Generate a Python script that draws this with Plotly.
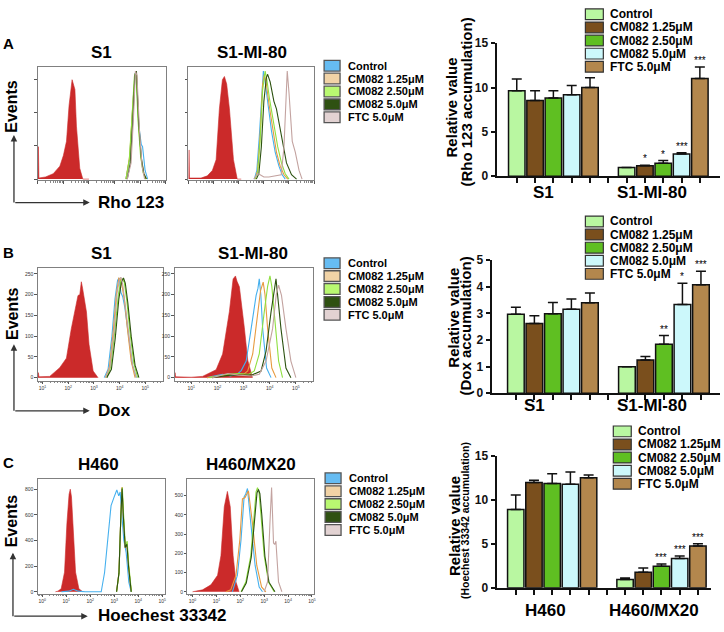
import plotly.graph_objects as go

W, H = 724, 632
FONT = "Liberation Sans, Arial, sans-serif"

# ---------------- labels / colours ----------------
TREATMENTS = ["Control", "CM082 1.25μM", "CM082 2.50μM", "CM082 5.0μM", "FTC 5.0μM"]
BAR_COLORS = ["#b9f7a1", "#7a4f1d", "#5fbf22", "#ccf8fb", "#b3874d"]
HIST_SWATCH = ["#66bcf2", "#f1d3a6", "#b9f871", "#2f5112", "#e2d2d2"]
HIST_LINES = ["#45b0ee", "#e79a3f", "#8fe040", "#2c5210", "#c3a3a0"]
RED = "#cb2a2a"

# ---------------- bar chart data ----------------
A_GROUPS = ["S1", "S1-MI-80"]
A_G1 = [9.63, 8.53, 8.82, 9.19, 10.0]
A_G1_ERR = [1.32, 1.1, 0.81, 1.03, 1.1]
A_G2 = [0.99, 1.18, 1.47, 2.5, 11.03]
A_G2_ERR = [0.0, 0.05, 0.29, 0.15, 1.29]
A_G2_SIG = ["", "*", "*", "***", "***"]

B_GROUPS = ["S1", "S1-MI-80"]
B_G1 = [2.97, 2.62, 2.99, 3.16, 3.4]
B_G1_ERR = [0.26, 0.29, 0.42, 0.38, 0.37]
B_G2 = [1.0, 1.25, 1.84, 3.34, 4.08]
B_G2_ERR = [0.0, 0.13, 0.33, 0.8, 0.51]
B_G2_SIG = ["", "", "**", "*", "***"]

C_GROUPS = ["H460", "H460/MX20"]
C_G1 = [8.89, 11.96, 11.85, 11.78, 12.52]
C_G1_ERR = [1.67, 0.26, 1.11, 1.37, 0.3]
C_G2 = [0.96, 1.78, 2.44, 3.33, 4.74]
C_G2_ERR = [0.15, 0.48, 0.26, 0.3, 0.26]
C_G2_SIG = ["", "", "***", "***", "***"]

# ---------------- histogram data (x = log10 fluorescence, y = events) ----------------
HIST_A1 = {
    "red": ([0, 0.02, 0.04, 0.3, 0.6, 0.86, 1.0, 1.12, 1.22, 1.34, 1.45, 1.51, 1.64, 1.76, 2.0],
            [0, 30, 1, 2, 5, 12, 22, 35, 68, 92, 83, 49, 10, 0, 0]),
    "Control": ([3.45, 3.6, 3.7, 3.8, 3.85, 3.95, 4.05, 4.1, 4.2, 4.3],
                [0, 20, 60, 98, 97, 50, 32, 30, 8, 0]),
    "CM082 1.25μM": ([3.45, 3.6, 3.7, 3.8, 3.86, 3.95, 4.05, 4.15, 4.25],
                     [0, 22, 62, 97, 99, 48, 18, 5, 0]),
    "CM082 2.50μM": ([3.45, 3.58, 3.68, 3.78, 3.84, 3.92, 4.02, 4.12, 4.22],
                     [0, 18, 55, 95, 100, 55, 22, 6, 0]),
    "CM082 5.0μM": ([3.5, 3.62, 3.72, 3.8, 3.86, 3.95, 4.05, 4.15, 4.25],
                    [0, 15, 55, 96, 100, 52, 20, 5, 0]),
    "FTC 5.0μM": ([3.5, 3.65, 3.75, 3.82, 3.88, 3.98, 4.08, 4.18],
                  [0, 15, 60, 100, 96, 45, 12, 0]),
}
HIST_A2 = {
    "red": ([0, 0.02, 0.04, 0.5, 0.75, 0.95, 1.1, 1.23, 1.35, 1.43, 1.52, 1.63, 1.79, 1.94, 2.1],
            [0, 27, 1, 1, 3, 8, 18, 65, 92, 95, 88, 65, 18, 0, 0]),
    "Control": ([2.62, 2.72, 2.82, 2.92, 2.98, 3.05, 3.15, 3.3, 3.45, 3.6, 3.73, 3.85],
                [0, 8, 40, 85, 100, 90, 72, 45, 25, 12, 4, 0]),
    "CM082 1.25μM": ([2.65, 2.75, 2.85, 2.95, 3.02, 3.1, 3.2, 3.35, 3.5, 3.65, 3.8, 3.95],
                     [0, 8, 40, 88, 97, 88, 70, 45, 25, 12, 4, 0]),
    "CM082 2.50μM": ([2.65, 2.75, 2.85, 2.95, 3.05, 3.12, 3.22, 3.4, 3.55, 3.7, 3.85, 4.0],
                     [0, 6, 35, 82, 100, 92, 75, 50, 30, 15, 5, 0]),
    "CM082 5.0μM": ([2.7, 2.8, 2.9, 3.0, 3.1, 3.15, 3.25, 3.4, 3.5, 3.62, 3.73, 3.9, 4.1, 4.3],
                    [0, 5, 30, 72, 94, 97, 90, 72, 65, 50, 35, 15, 4, 0]),
    "FTC 5.0μM": ([2.6, 2.75, 2.85, 3.0, 3.2, 3.5, 3.69, 3.8, 3.88, 3.93, 4.0, 4.13, 4.25, 4.4, 4.52],
                  [0, 5, 4, 2, 2, 3, 4, 30, 85, 100, 80, 35, 25, 8, 0]),
}
HIST_B1 = {
    "red": ([0.82, 0.84, 0.86, 1.28, 1.67, 1.93, 2.12, 2.29, 2.38, 2.45, 2.51, 2.56, 2.6, 2.71, 2.81, 2.97, 3.16],
            [0, 12, 2, 3, 24, 47, 118, 165, 198, 200, 231, 215, 200, 158, 80, 16, 0]),
    "Control": ([3.4, 3.55, 3.7, 3.82, 3.92, 3.98, 4.05, 4.12, 4.2, 4.33, 4.5, 4.65],
                [0, 20, 100, 190, 235, 240, 205, 195, 170, 110, 30, 0]),
    "CM082 1.25μM": ([3.45, 3.6, 3.75, 3.87, 3.97, 4.02, 4.1, 4.2, 4.3, 4.45, 4.6],
                     [0, 25, 110, 200, 240, 238, 220, 180, 120, 40, 0]),
    "CM082 2.50μM": ([3.5, 3.65, 3.8, 3.95, 4.05, 4.1, 4.18, 4.28, 4.4, 4.55, 4.7],
                     [0, 25, 105, 200, 235, 238, 230, 185, 110, 35, 0]),
    "CM082 5.0μM": ([3.5, 3.68, 3.83, 3.97, 4.07, 4.15, 4.22, 4.32, 4.45, 4.6, 4.75],
                    [0, 20, 95, 190, 230, 240, 228, 180, 100, 30, 0]),
    "FTC 5.0μM": ([3.45, 3.62, 3.78, 3.9, 4.0, 4.05, 4.12, 4.22, 4.35, 4.5, 4.65],
                  [0, 25, 110, 205, 238, 242, 225, 175, 100, 30, 0]),
}
HIST_B2 = {
    "red": ([0.36, 0.38, 0.4, 1.0, 1.43, 1.95, 2.2, 2.46, 2.6, 2.69, 2.75, 2.84, 3.03, 3.16, 3.34],
            [0, 12, 2, 1, 3, 19, 57, 160, 238, 245, 232, 219, 120, 42, 0]),
    "Control": ([1.6, 2.2, 2.5, 2.75, 2.91, 3.1, 3.29, 3.48, 3.55, 3.6, 3.66, 3.73, 3.88, 4.05],
                [0, 8, 4, 8, 17, 40, 118, 198, 215, 238, 200, 118, 23, 0]),
    "CM082 1.25μM": ([1.6, 2.3, 2.7, 3.0, 3.16, 3.35, 3.54, 3.65, 3.75, 3.82, 3.92, 4.08, 4.24],
                     [0, 5, 8, 8, 16, 57, 157, 210, 230, 200, 118, 23, 0]),
    "CM082 2.50μM": ([1.7, 2.4, 2.8, 3.2, 3.41, 3.6, 3.79, 3.92, 4.01, 4.08, 4.17, 4.34, 4.49],
                     [0, 8, 10, 8, 16, 57, 158, 220, 245, 220, 158, 40, 0]),
    "CM082 5.0μM": ([1.8, 2.5, 2.9, 3.3, 3.67, 3.86, 4.05, 4.15, 4.24, 4.3, 4.43, 4.62, 4.81],
                    [0, 6, 6, 6, 16, 64, 158, 200, 238, 200, 118, 23, 0]),
    "FTC 5.0μM": ([1.8, 2.4, 2.8, 3.3, 3.6, 3.86, 4.11, 4.25, 4.34, 4.4, 4.45, 4.62, 4.81, 5.0],
                  [0, 10, 6, 4, 8, 40, 118, 200, 223, 205, 198, 118, 40, 0]),
}
HIST_C1 = {
    "red": ([0.55, 0.65, 0.79, 0.93, 1.03, 1.12, 1.17, 1.22, 1.28, 1.39, 1.53, 1.69],
            [0, 5, 23, 153, 534, 760, 800, 740, 534, 153, 23, 0]),
    "FTC 5.0μM": ([3.1, 3.2, 3.28, 3.33, 3.38, 3.46, 3.53, 3.6, 3.71],
                  [0, 150, 600, 810, 600, 343, 385, 200, 0]),
    "Control": ([0.8, 1.1, 1.3, 1.5, 1.8, 2.46, 2.6, 2.73, 2.87, 3.0, 3.11, 3.19, 3.25, 3.32, 3.4, 3.5, 3.61, 3.71],
                [0, 5, 20, 5, 0, 0, 150, 405, 672, 740, 794, 748, 778, 600, 405, 305, 76, 0]),
    "CM082 1.25μM": ([3.1, 3.2, 3.28, 3.33, 3.38, 3.46, 3.53, 3.6, 3.71],
                     [0, 150, 600, 817, 600, 343, 380, 200, 0]),
    "CM082 2.50μM": ([3.1, 3.2, 3.28, 3.34, 3.39, 3.47, 3.54, 3.61, 3.72],
                     [0, 140, 590, 812, 610, 350, 395, 205, 0]),
    "CM082 5.0μM": ([3.1, 3.2, 3.28, 3.33, 3.38, 3.46, 3.53, 3.6, 3.71],
                    [0, 145, 595, 805, 595, 345, 370, 195, 0]),
}
HIST_C2 = {
    "red": ([0.0, 0.42, 0.77, 1.05, 1.19, 1.33, 1.46, 1.58, 1.7, 1.82, 1.95],
            [0, 10, 36, 86, 188, 442, 522, 442, 188, 51, 0]),
    "Control": ([1.67, 1.88, 2.03, 2.16, 2.23, 2.3, 2.44, 2.62, 2.79, 2.93],
                [0, 86, 270, 493, 510, 537, 356, 137, 25, 0]),
    "CM082 1.25μM": ([1.4, 1.6, 1.82, 1.98, 2.09, 2.2, 2.34, 2.51, 2.69, 2.89, 3.07],
                     [0, 10, 86, 270, 483, 490, 525, 356, 137, 25, 0]),
    "CM082 2.50μM": ([2.03, 2.23, 2.44, 2.58, 2.66, 2.72, 2.78, 2.86, 3.0, 3.18, 3.42],
                     [0, 51, 188, 407, 520, 542, 520, 407, 188, 51, 0]),
    "CM082 5.0μM": ([2.05, 2.25, 2.46, 2.6, 2.7, 2.76, 2.82, 2.9, 3.03, 3.2, 3.45],
                    [0, 45, 180, 400, 515, 532, 510, 400, 185, 50, 0]),
    "FTC 5.0μM": ([3.0, 3.14, 3.24, 3.31, 3.35, 3.39, 3.44, 3.49, 3.6, 3.74],
                  [0, 51, 356, 542, 400, 254, 246, 263, 51, 0]),
}

# ---------------- figure ----------------
fig = go.Figure()
layout = {}
annotations = []
shapes = []


def sfx(n):
    return "" if n == 1 else str(n)


def dom_x(a, b):
    return [a / W, b / W]


def dom_y(top, bottom):
    return [1 - bottom / H, 1 - top / H]


def ann(x, y, text, size, bold=True, xanchor="center", yanchor="middle", angle=0, color="black"):
    annotations.append(dict(x=x / W, y=1 - y / H, xref="paper", yref="paper", text=text,
                            showarrow=False, xanchor=xanchor, yanchor=yanchor, textangle=angle,
                            borderpad=0,
                            font=dict(size=size, family=FONT, color=color,
                                      weight="bold" if bold else "normal")))


def minor_logs(lo, hi):
    import math
    out = []
    for d in range(int(lo) - 1, int(hi) + 1):
        for k in range(2, 10):
            v = d + math.log10(k)
            if lo < v < hi:
                out.append(v)
    return out


def add_hist(n, data, box, xr, yr, xmajor, xlabels, ymajor, ylabels):
    s = sfx(n)
    for name, (xs, ys) in data.items():
        if name == "red":
            fig.add_trace(go.Scatter(x=xs, y=ys, xaxis="x" + s, yaxis="y" + s, mode="lines",
                                     fill="tozeroy", fillcolor=RED,
                                     line=dict(color=RED, width=0.6), showlegend=False,
                                     hoverinfo="skip"))
    for name, (xs, ys) in data.items():
        if name != "red":
            c = HIST_LINES[TREATMENTS.index(name)]
            fig.add_trace(go.Scatter(x=xs, y=ys, xaxis="x" + s, yaxis="y" + s, mode="lines",
                                     line=dict(color=c, width=1.1), showlegend=False,
                                     hoverinfo="skip"))
    x0, x1, y0, y1 = box
    layout["xaxis" + s] = dict(domain=dom_x(x0, x1), range=xr, anchor="y" + s,
                               showline=True, mirror=True, linecolor="#808080", linewidth=1,
                               ticks="outside", ticklen=2.5, tickwidth=0.8, tickcolor="#555",
                               tickvals=xmajor, ticktext=xlabels,
                               showticklabels=xlabels is not None,
                               tickfont=dict(size=5, color="#333", family=FONT),
                               minor=dict(tickvals=minor_logs(xr[0], xr[1]), ticks="outside",
                                          ticklen=1.5, tickcolor="#888", tickwidth=0.6),
                               showgrid=False, zeroline=False, fixedrange=True)
    layout["yaxis" + s] = dict(domain=dom_y(y0, y1), range=yr, anchor="x" + s,
                               showline=True, mirror=True, linecolor="#808080", linewidth=1,
                               ticks="outside", ticklen=2.5, tickwidth=0.8, tickcolor="#555",
                               tickvals=ymajor, ticktext=ylabels,
                               showticklabels=ylabels is not None,
                               tickfont=dict(size=5, color="#333", family=FONT),
                               showgrid=False, zeroline=False, fixedrange=True)


def add_bars(n, g1, e1, g2, e2, sig, box, xr, yr, yticks):
    s = sfx(n)
    for i, name in enumerate(TREATMENTS):
        fig.add_trace(go.Bar(x=[i, i + 6], y=[g1[i], g2[i]], xaxis="x" + s, yaxis="y" + s,
                             width=0.9, name=name, showlegend=False, cliponaxis=False,
                             marker=dict(color=BAR_COLORS[i], line=dict(color="#111", width=1.5)),
                             error_y=dict(type="data", symmetric=False, array=[e1[i], e2[i]],
                                          arrayminus=[0, 0], color="#111", thickness=1.5, width=5)))
        if sig[i]:
            annotations.append(dict(x=i + 6, y=g2[i] + e2[i], xref="x" + s, yref="y" + s,
                                    text=sig[i], showarrow=False, yanchor="bottom", yshift=-1,
                                    font=dict(size=10, family=FONT, color="black")))
    x0, x1, y0, y1 = box
    layout["xaxis" + s] = dict(domain=dom_x(x0, x1), range=xr, anchor="y" + s,
                               showline=True, linecolor="#111", linewidth=2,
                               ticks="outside", ticklen=5, tickwidth=1.5, tickcolor="#111",
                               tickvals=list(range(11)), showticklabels=False,
                               showgrid=False, zeroline=False, fixedrange=True)
    layout["yaxis" + s] = dict(domain=dom_y(y0, y1), range=yr, anchor="x" + s,
                               showline=True, linecolor="#111", linewidth=2,
                               ticks="outside", ticklen=4, tickwidth=1.5, tickcolor="#111",
                               tickvals=yticks,
                               tickfont=dict(size=12, family=FONT, color="#111", weight="bold"),
                               showgrid=False, zeroline=False, fixedrange=True)


def sup(n):
    return "10<sup>%d</sup>" % n


# ---- Panel A ----
add_hist(1, HIST_A1, (38, 166, 61, 177), [0, 5], [-0.9, 104.1],
         [0, 1, 2, 3, 4, 5], None, [0, 30.7, 61.5, 92], None)
add_hist(2, HIST_A2, (189, 315, 61, 177), [0, 5], [-0.9, 104.1],
         [0, 1, 2, 3, 4, 5], None, [0, 30.7, 61.5, 92], None)
add_bars(3, A_G1, A_G1_ERR, A_G2, A_G2_ERR, A_G2_SIG, (498, 722, 37, 173),
         [-1.1, 11.1], [0, 15], [0, 5, 10, 15])

# ---- Panel B ----
B_YT = [0, 50, 100, 150, 200, 250]
add_hist(4, HIST_B1, (38, 163, 267, 382), [0.82, 5.67], [-7, 264],
         [1, 2, 3, 4, 5], [sup(k) for k in range(1, 6)], B_YT, [str(v) for v in B_YT])
add_hist(5, HIST_B2, (175, 314, 267, 382), [0.36, 5.66], [-7, 264],
         [1, 2, 3, 4, 5], [sup(k) for k in range(1, 6)], B_YT, [str(v) for v in B_YT])
add_bars(6, B_G1, B_G1_ERR, B_G2, B_G2_ERR, B_G2_SIG, (493, 722, 259, 395),
         [-1.31, 11.03], [0, 5], [0, 1, 2, 3, 4, 5])

# ---- Panel C ----
C1_YT = [0, 200, 400, 600, 800]
C2_YT = [0, 100, 200, 300, 400, 500]
add_hist(7, HIST_C1, (38, 165, 483, 600), [-0.18, 5.1], [-15, 877],
         [0, 1, 2, 3, 4, 5], [sup(k) for k in range(0, 6)], C1_YT, [str(v) for v in C1_YT])
add_hist(8, HIST_C2, (188, 315, 483, 600), [-0.21, 5.09], [-10, 585],
         [0, 1, 2, 3, 4, 5], [sup(k) for k in range(0, 6)], C2_YT, [str(v) for v in C2_YT])
add_bars(9, C_G1, C_G1_ERR, C_G2, C_G2_ERR, C_G2_SIG, (498, 713, 459, 594),
         [-1.05, 10.72], [0, 15], [0, 5, 10, 15])

# ---- panel letters, titles, axis words ----
for letter, y in (("A", 37), ("B", 251), ("C", 466)):
    ann(2, y, letter, 15, xanchor="left")

ann(102, 47, "S1", 17)
ann(253, 47, "S1-MI-80", 17)
ann(102, 252, "S1", 17)
ann(254, 252, "S1-MI-80", 17)
ann(99, 468, "H460", 17)
ann(252, 468, "H460/MX20", 17)

ann(12, 101, "Events", 16, angle=-90)
ann(12, 313, "Events", 16, angle=-90)
ann(11, 525, "Events", 16, angle=-90)
ann(97, 200, "Rho 123", 17, xanchor="left")
ann(97, 413, "Dox", 17, xanchor="left")
ann(97, 622, "Hoechest 33342", 17, xanchor="left")

for (xv, ytop, ybot, xtip) in ((14, 131, 200, 90), (14, 345, 413, 90), (13, 558, 623, 88)):
    annotations.append(dict(x=xv / W, y=1 - ytop / H, xref="paper", yref="paper", text="",
                            showarrow=True, ax=0, ay=ybot - ytop, arrowhead=2, arrowsize=1,
                            arrowwidth=1.3, arrowcolor="#333", standoff=0, startstandoff=0))
    annotations.append(dict(x=xtip / W, y=1 - ybot / H, xref="paper", yref="paper", text="",
                            showarrow=True, ax=-(xtip - xv), ay=0, arrowhead=2, arrowsize=1,
                            arrowwidth=1.3, arrowcolor="#333", standoff=0, startstandoff=0))

# bar chart y titles and group labels
ann(453, 103, "Relative value", 15, angle=-90)
ann(468, 97, "(Rho 123 accumulation)", 15, angle=-90)
ann(455, 318, "Relative value", 15, angle=-90)
ann(467, 326, "(Dox accumulation)", 15, angle=-90)
ann(455, 531, "Relative value", 15, angle=-90)
ann(467, 525, "(Hoechest 33342 accumulation)", 10.5, angle=-90)

ann(545, 190, A_GROUPS[0], 17)
ann(654, 190, A_GROUPS[1], 17)
ann(536, 408, B_GROUPS[0], 17)
ann(654, 408, B_GROUPS[1], 17)
ann(547, 617, C_GROUPS[0], 17)
ann(656, 617, C_GROUPS[1], 17)


# ---- legends ----
def hist_legend(x0, y_first, step=13.2):
    for i, name in enumerate(TREATMENTS):
        yc = y_first + i * step
        shapes.append(dict(type="rect", xref="paper", yref="paper",
                           x0=x0 / W, x1=(x0 + 16) / W, y0=1 - (yc + 5.5) / H, y1=1 - (yc - 5.5) / H,
                           fillcolor=HIST_SWATCH[i], line=dict(color="#555", width=1.3)))
        ann(x0 + 23, yc, name, 11, xanchor="left")


def bar_legend(x0, y_first, step=13.4, sw=18):
    for i, name in enumerate(TREATMENTS):
        yc = y_first + i * step
        shapes.append(dict(type="rect", xref="paper", yref="paper",
                           x0=x0 / W, x1=(x0 + sw) / W, y0=1 - (yc + 5.5) / H, y1=1 - (yc - 5.5) / H,
                           fillcolor=BAR_COLORS[i], line=dict(color="#333", width=1.2)))
        ann(x0 + sw + 6, yc, name, 12, xanchor="left")


hist_legend(325, 60)
hist_legend(325, 262)
hist_legend(326, 482)
bar_legend(587, 7.5)
bar_legend(587, 219.3)
bar_legend(615, 434)

fig.update_layout(**layout)
fig.update_layout(width=W, height=H, margin=dict(l=0, r=0, t=0, b=0),
                  paper_bgcolor="white", plot_bgcolor="white", barmode="overlay",
                  showlegend=False, annotations=annotations, shapes=shapes,
                  font=dict(family=FONT))

fig.write_html("out.html", config={"displayModeBar": False},
               post_script="document.body.style.margin='0';document.body.style.overflow='hidden';")
